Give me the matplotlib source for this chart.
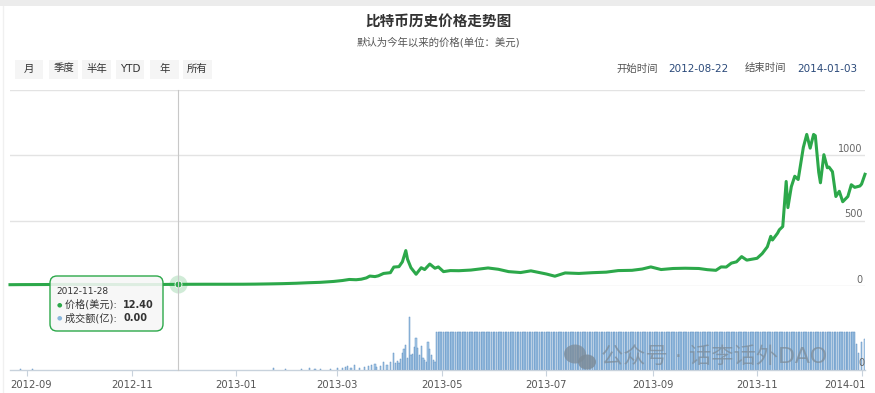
import numpy as np
import pandas as pd
import matplotlib
matplotlib.use("Agg")
import matplotlib.pyplot as plt
from matplotlib.patches import Rectangle, FancyBboxPatch, Ellipse
from matplotlib.lines import Line2D

# DejaVu for latin/digits (wide like the original), Noto CJK for Chinese
plt.rcParams['font.family'] = ['DejaVu Sans', 'Noto Sans CJK SC']

# price in USD
price_dates = [
    "2012-08-22", "2012-08-28", "2012-09-05", "2012-09-12", "2012-09-20", "2012-09-28",
    "2012-10-08", "2012-10-18", "2012-10-28", "2012-11-05", "2012-11-15", "2012-11-22",
    "2012-11-28", "2012-12-05", "2012-12-15", "2012-12-25", "2013-01-05", "2013-01-12",
    "2013-01-20", "2013-01-28", "2013-02-05", "2013-02-12", "2013-02-19", "2013-02-27",
    "2013-03-04", "2013-03-08", "2013-03-12", "2013-03-15", "2013-03-18", "2013-03-20",
    "2013-03-23", "2013-03-25", "2013-03-28", "2013-04-01", "2013-04-03", "2013-04-06",
    "2013-04-08", "2013-04-10", "2013-04-11", "2013-04-13", "2013-04-16", "2013-04-19",
    "2013-04-21", "2013-04-24", "2013-04-27", "2013-04-29", "2013-05-02", "2013-05-06",
    "2013-05-11", "2013-05-18", "2013-05-28", "2013-06-03", "2013-06-09", "2013-06-16",
    "2013-06-22", "2013-07-01", "2013-07-06", "2013-07-12", "2013-07-20", "2013-07-28",
    "2013-08-05", "2013-08-12", "2013-08-20", "2013-08-26", "2013-08-31", "2013-09-06",
    "2013-09-13", "2013-09-20", "2013-09-28", "2013-10-03", "2013-10-08", "2013-10-11",
    "2013-10-14", "2013-10-17", "2013-10-20", "2013-10-23", "2013-10-26", "2013-10-29",
    "2013-11-01", "2013-11-04", "2013-11-07", "2013-11-09", "2013-11-10", "2013-11-13",
    "2013-11-14", "2013-11-16", "2013-11-18", "2013-11-19", "2013-11-21", "2013-11-23",
    "2013-11-25", "2013-11-28", "2013-11-30", "2013-12-02", "2013-12-04", "2013-12-05",
    "2013-12-07", "2013-12-08", "2013-12-10", "2013-12-12", "2013-12-13", "2013-12-15",
    "2013-12-17", "2013-12-19", "2013-12-21", "2013-12-24", "2013-12-26", "2013-12-28",
    "2013-12-31", "2014-01-01", "2014-01-03",
]
price_values = [
    10.0, 10.6, 10.9, 11.3, 12.2, 12.4,
    11.9, 11.7, 10.7, 10.8, 11.2, 12.2,
    12.4, 13.2, 13.5, 13.4, 13.6, 14.4,
    16.0, 18.0, 21, 25, 28, 35,
    42, 50, 48, 52, 62, 76,
    72, 78, 96, 102, 145, 148,
    185, 271, 205, 140, 90, 140,
    126, 168, 136, 146, 110, 118,
    117, 122, 138, 128, 110, 103,
    116, 92, 75, 100, 96, 102,
    106, 118, 120, 130, 146, 126,
    134, 136, 134, 125, 120, 146,
    145, 175, 185, 225, 198, 205,
    212, 248, 300, 380, 352, 405,
    430, 455, 800, 600, 760, 840,
    815, 1060, 1160, 1055, 1160, 1150,
    870, 790, 1005, 905, 910, 875,
    685, 725, 645, 685, 775, 755,
    765, 780, 855,
]

# volume, relative units (the flat band = 100)
vol_dates = [
    "2012-08-28", "2012-09-04", "2013-01-23", "2013-01-30", "2013-02-08", "2013-02-13",
    "2013-02-16", "2013-02-19", "2013-02-25", "2013-03-01", "2013-03-04", "2013-03-06",
    "2013-03-07", "2013-03-09", "2013-03-11", "2013-03-14", "2013-03-17", "2013-03-19",
    "2013-03-21", "2013-03-23", "2013-03-24", "2013-03-26", "2013-03-28", "2013-03-30",
    "2013-04-01", "2013-04-03", "2013-04-04", "2013-04-05", "2013-04-06", "2013-04-07",
    "2013-04-08", "2013-04-09", "2013-04-10", "2013-04-11", "2013-04-12", "2013-04-13",
    "2013-04-14", "2013-04-15", "2013-04-16", "2013-04-17", "2013-04-18", "2013-04-19",
    "2013-04-20", "2013-04-21", "2013-04-22", "2013-04-23", "2013-04-24", "2013-04-25",
    "2013-04-26", "2013-04-27", "2013-12-29", "2013-12-30", "2014-01-01", "2014-01-03",
]
vol_values = [
    2, 2, 4, 2, 3, 5,
    3, 3, 2, 6, 5, 8,
    11, 6, 13, 5, 7, 11,
    13, 16, 9, 11, 21, 13,
    21, 45, 18, 24, 18, 30,
    45, 55, 66, 32, 140, 40,
    42, 60, 84, 58, 40, 63,
    32, 25, 21, 74, 55, 40,
    26, 20, 68, 45, 74, 82,
]
plateau_start = "2013-04-28"
plateau_end = "2013-12-28"
plateau_value = 100

tick_months = ["2012-09", "2012-11", "2013-01", "2013-03", "2013-05",
               "2013-07", "2013-09", "2013-11", "2014-01"]
price_ticks = [0, 500, 1000, 1500]

tip_date = "2012-11-28"
tip_price = 12.40
tip_volume = 0.00

buttons = ["月", "季度", "半年", "YTD", "年", "所有"]
start_date = "2012-08-22"
end_date = "2014-01-03"

W, H = 875, 393
green = "#2ca84a"


def fx(x):
    return x / W


def fy(y):
    return 1 - y / H


fig = plt.figure(figsize=(W / 100, H / 100), dpi=100)
fig.patch.set_facecolor("white")

# top grey band of the page
fig.add_artist(Rectangle((0, fy(6)), 1, 6 / H, transform=fig.transFigure,
                         color="#ececec", lw=0))
fig.add_artist(Line2D([fx(2.5), fx(2.5)], [fy(6), fy(393)], transform=fig.transFigure,
                      color="#f0f0f0", lw=1))

fig.text(fx(438), fy(22), "比特币历史价格走势图", ha="center", va="center",
         fontsize=10.5, fontweight="bold", color="#333333")
fig.text(fx(438), fy(42), "默认为今年以来的价格(单位：美元)", ha="center", va="center",
         fontsize=7.5, color="#555555")

# range buttons
btn_x = [(15, 43), (49, 78), (82, 111), (116, 144), (150, 179), (183, 212)]
for label, (x0, x1) in zip(buttons, btn_x):
    fig.add_artist(Rectangle((fx(x0), fy(79)), (x1 - x0) / W, 19 / H,
                             transform=fig.transFigure, color="#f5f5f5", lw=0))
    fig.text(fx((x0 + x1) / 2), fy(68.5), label, ha="center", va="center",
             fontsize=7.5, color="#333333")

fig.text(fx(616), fy(68.5), "开始时间", ha="left", va="center", fontsize=7.5, color="#555555")
fig.text(fx(668), fy(68.5), start_date, ha="left", va="center", fontsize=7.5, color="#2b4a7a")
fig.text(fx(745), fy(68.5), "结束时间", ha="left", va="center", fontsize=7.5, color="#555555")
fig.text(fx(797), fy(68.5), end_date, ha="left", va="center", fontsize=7.5, color="#2b4a7a")

x_lo = pd.Timestamp(start_date)
x_hi = pd.Timestamp(end_date)

# price panel
ax = fig.add_axes([fx(10), fy(286), (865 - 10) / W, (286 - 90) / H])
ax.plot(pd.to_datetime(price_dates), price_values, color=green, lw=2.2,
        solid_joinstyle="round", clip_on=False, zorder=3)
ax.set_xlim(x_lo, x_hi)
ax.set_ylim(0, 1500)
ax.set_yticks(price_ticks)
ax.grid(axis="y", color="#e3e3e3", lw=1)
ax.set_axisbelow(True)
for s in ax.spines.values():
    s.set_visible(False)
ax.tick_params(left=False, labelleft=False, bottom=False, labelbottom=False)
ax.set_facecolor("none")
for t in price_ticks[:-1]:
    ax.annotate(str(t), xy=(1, t), xycoords=("axes fraction", "data"),
                xytext=(-1.5, 4.5), textcoords="offset points", ha="right", va="center",
                fontsize=7, color="#666666")

# hovered point
ax.plot(pd.Timestamp(tip_date), tip_price, "o", ms=13, color=green, alpha=0.22,
        mec="none", clip_on=False, zorder=4)
ax.plot(pd.Timestamp(tip_date), tip_price, "o", ms=5, color=green, mec="white",
        mew=0.6, clip_on=False, zorder=5)

# volume panel
vax = fig.add_axes([fx(10), fy(370), (865 - 10) / W, 80 / H])
plateau_dates = pd.date_range(plateau_start, plateau_end, freq="D")
all_vol_dates = list(pd.to_datetime(vol_dates)) + list(plateau_dates)
all_vol_values = vol_values + [plateau_value] * len(plateau_dates)
vax.bar(all_vol_dates, all_vol_values, width=0.7, color="#a9cbe8",
        edgecolor="#5f90c2", lw=0.35)
vax.set_xlim(x_lo, x_hi)
vax.set_ylim(0, 210)
vax.set_facecolor("none")
for k in ["top", "left", "right"]:
    vax.spines[k].set_visible(False)
vax.spines["bottom"].set_color("#c8d2dc")
vax.spines["bottom"].set_linewidth(1)
vax.set_yticks([])
vax.set_xticks(pd.to_datetime(tick_months))
vax.set_xticklabels(tick_months)
vax.tick_params(axis="x", length=4.5, width=0.8, color="#c8d2dc",
                labelsize=7.2, labelcolor="#555555", pad=2.5)
# edge labels are pushed inside the plot, as in the original
labels = vax.get_xticklabels()
labels[0].set_horizontalalignment("left")
labels[0].set_x(labels[0].get_position()[0])
labels[0].set_transform(labels[0].get_transform() +
                        matplotlib.transforms.ScaledTranslation(-17 / 100, 0, fig.dpi_scale_trans))
labels[-1].set_horizontalalignment("right")
labels[-1].set_transform(labels[-1].get_transform() +
                         matplotlib.transforms.ScaledTranslation(4 / 100, 0, fig.dpi_scale_trans))
fig.text(fx(861), fy(363), "0", ha="center", va="center", fontsize=7, color="#666666")

# crosshair
fig.add_artist(Line2D([fx(177.5), fx(177.5)], [fy(90), fy(370)], transform=fig.transFigure,
                      color="#c8c8c8", lw=0.8))

# tooltip
fig.add_artist(FancyBboxPatch((fx(50), fy(331)), 113 / W, 55 / H,
                              boxstyle="round,pad=0,rounding_size=0.008",
                              transform=fig.transFigure, facecolor=(0.97, 0.97, 0.97, 0.88),
                              edgecolor=green, lw=1, mutation_aspect=W / H))
fig.text(fx(56.5), fy(291), tip_date, ha="left", va="center", fontsize=6.5, color="#333333")
fig.text(fx(59.5), fy(304.5), "●", ha="center", va="center", fontsize=4.5, color=green)
fig.text(fx(65), fy(304.5), "价格(美元): ", ha="left", va="center", fontsize=7.3, color="#333333")
fig.text(fx(123), fy(304.5), f"{tip_price:.2f}", ha="left", va="center", fontsize=7,
         fontweight="bold", color="#333333")
fig.text(fx(59.5), fy(318), "●", ha="center", va="center", fontsize=4.5, color="#8ab6dc")
fig.text(fx(65), fy(318), "成交额(亿): ", ha="left", va="center", fontsize=7.3, color="#333333")
fig.text(fx(123), fy(318), f"{tip_volume:.2f}", ha="left", va="center", fontsize=7,
         fontweight="bold", color="#333333")

# watermark
wm = "#7d8c99"
fig.add_artist(Ellipse((fx(575), fy(354)), 22 / W, 19 / H, transform=fig.transFigure,
                       color=wm, alpha=0.75, lw=0))
fig.add_artist(Ellipse((fx(587), fy(362)), 18 / W, 15 / H, transform=fig.transFigure,
                       color=wm, alpha=0.85, lw=0))
fig.text(fx(601), fy(357), "公众号 · 话李话外DAO", ha="left", va="center",
         fontsize=16, color=wm, alpha=0.75)

fig.savefig("out.png", dpi=100)
